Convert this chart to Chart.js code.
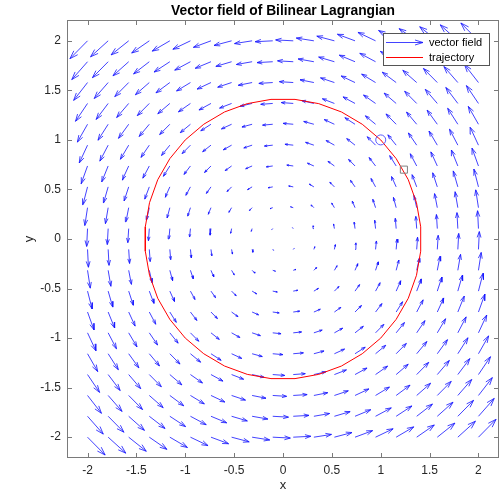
<!DOCTYPE html>
<html><head><meta charset="utf-8">
<script src="https://cdn.jsdelivr.net/npm/chart.js@4"></script>
<style>html,body{margin:0;padding:0;background:#fff;}#wrap{position:relative;width:504px;height:493px;}</style>
</head><body><div id="wrap"><canvas id="c" width="504" height="493"></canvas></div>
<script>
// ---- data ----
const gridX = [-2, -1.789, -1.579, -1.368, -1.158, -0.947, -0.737, -0.526, -0.316, -0.105, 0.105, 0.316, 0.526, 0.737, 0.947, 1.158, 1.368, 1.579, 1.789, 2];
const gridY = [-2, -1.789, -1.579, -1.368, -1.158, -0.947, -0.737, -0.526, -0.316, -0.105, 0.105, 0.316, 0.526, 0.737, 0.947, 1.158, 1.368, 1.579, 1.789, 2];
// drawn arrow components: horizontal part depends on the row, vertical part on the column
const arrowDxByRow = [0.18, 0.161, 0.142, 0.123, 0.104, 0.085, 0.066, 0.047, 0.028, 0.009, -0.009, -0.028, -0.047, -0.066, -0.085, -0.104, -0.123, -0.142, -0.161, -0.18];
const arrowDyByCol = [-0.18, -0.161, -0.142, -0.123, -0.104, -0.085, -0.066, -0.047, -0.028, -0.009, 0.009, 0.028, 0.047, 0.066, 0.085, 0.104, 0.123, 0.142, 0.161, 0.18];
const trajX = [1.00, 0.811, 0.598, 0.366, 0.123, -0.123, -0.366, -0.598, -0.811, -1.00, -1.158, -1.282, -1.366, -1.409, -1.409, -1.366, -1.282, -1.158, -1.00, -0.811, -0.598, -0.366, -0.123, 0.123, 0.366, 0.598, 0.811, 1.00, 1.158, 1.282, 1.366, 1.409, 1.409, 1.366, 1.282, 1.158, 1.00];
const trajY = [1.00, 1.158, 1.282, 1.366, 1.409, 1.409, 1.366, 1.282, 1.158, 1.00, 0.811, 0.598, 0.366, 0.123, -0.123, -0.366, -0.598, -0.811, -1.00, -1.158, -1.282, -1.366, -1.409, -1.409, -1.366, -1.282, -1.158, -1.00, -0.811, -0.598, -0.366, -0.123, 0.123, 0.366, 0.598, 0.811, 1.00];
const startX = [1.0], startY = [1.0];
const endX = [1.237], endY = [0.700];
const xTicks = [-2, -1.5, -1, -0.5, 0, 0.5, 1, 1.5, 2];
const yTicks = [-2, -1.5, -1, -0.5, 0, 0.5, 1, 1.5, 2];
const xRange = [-2.2, 2.2], yRange = [-2.2, 2.2];

// ---- styles ----
const FONT = '"Liberation Sans", Arial, Helvetica, sans-serif';
const BLUE = 'rgba(20,20,255,0.8)';
const AXIS = '#7a7a7a';
const HEAD_A = 0.33, HEAD_B = 0.33;

const arrowData = [];
gridY.forEach((y, i) => gridX.forEach((x, j) => {
  const u = arrowDxByRow[i], v = arrowDyByCol[j];
  const tx = x + u, ty = y + v;
  arrowData.push({x: x, y: y}, {x: tx, y: ty}, {x: tx, y: null},
    {x: tx - HEAD_A * (u + HEAD_B * v), y: ty - HEAD_A * (v - HEAD_B * u)}, {x: tx, y: ty},
    {x: tx - HEAD_A * (u - HEAD_B * v), y: ty - HEAD_A * (v + HEAD_B * u)}, {x: tx, y: null});
}));

const axesBox = {
  id: 'axesBox',
  afterDatasetsDraw(chart) {
    const {ctx, chartArea: a, scales} = chart;
    ctx.save();
    ctx.strokeStyle = AXIS; ctx.lineWidth = 1;
    ctx.strokeRect(Math.round(a.left) - 0.5, Math.round(a.top) - 0.5, Math.round(a.right - a.left) + 1, Math.round(a.bottom - a.top) + 1);
    ctx.beginPath();
    const tl = 4;
    xTicks.forEach(v => {
      const p = Math.round(scales.x.getPixelForValue(v)) + 0.5;
      ctx.moveTo(p, a.bottom); ctx.lineTo(p, a.bottom - tl);
      ctx.moveTo(p, a.top); ctx.lineTo(p, a.top + tl);
    });
    yTicks.forEach(v => {
      const p = Math.round(scales.y.getPixelForValue(v)) + 0.5;
      ctx.moveTo(a.left, p); ctx.lineTo(a.left + tl, p);
      ctx.moveTo(a.right, p); ctx.lineTo(a.right - tl, p);
    });
    ctx.stroke();
    ctx.restore();
  }
};

const legendBox = {
  id: 'legendBox',
  afterDraw(chart) {
    const {ctx, chartArea: a} = chart;
    const right = a.right - 9, top = a.top + 12, w = 106, h = 32;
    const left = right - w;
    ctx.save();
    ctx.fillStyle = '#fff';
    ctx.fillRect(left, top, w, h);
    ctx.strokeStyle = '#555'; ctx.lineWidth = 1;
    ctx.strokeRect(Math.round(left) + 0.5, Math.round(top) + 0.5, w, h);
    const x0 = left + 3, x1 = left + 40;
    const y1 = top + 9.5, y2 = top + 24.5;
    ctx.strokeStyle = BLUE;
    ctx.beginPath();
    ctx.moveTo(x0, y1); ctx.lineTo(x1, y1);
    ctx.moveTo(x1 - 8, y1 - 2.5); ctx.lineTo(x1, y1); ctx.lineTo(x1 - 8, y1 + 2.5);
    ctx.stroke();
    ctx.strokeStyle = '#ff0000';
    ctx.beginPath(); ctx.moveTo(x0, y2); ctx.lineTo(x1, y2); ctx.stroke();
    ctx.fillStyle = '#000';
    ctx.font = '11px ' + FONT;
    ctx.textBaseline = 'middle';
    ctx.fillText('vector field', left + 46, y1);
    ctx.fillText('trajectory', left + 46, y2);
    ctx.restore();
  }
};

new Chart(document.getElementById('c'), {
  type: 'line',
  data: {
    datasets: [
      {label: 'vector field', data: arrowData, borderColor: BLUE, borderWidth: 1, pointRadius: 0, spanGaps: false, tension: 0, order: 3},
      {label: 'trajectory', data: trajX.map((x, i) => ({x: x, y: trajY[i]})), borderColor: '#ff0000', borderWidth: 1, pointRadius: 0, tension: 0, order: 2},
      {label: 'start', data: startX.map((x, i) => ({x: x, y: startY[i]})), showLine: false, pointStyle: 'circle', pointRadius: 5, borderColor: '#5a5aff', backgroundColor: 'rgba(0,0,0,0)', borderWidth: 1, order: 1},
      {label: 'end', data: endX.map((x, i) => ({x: x, y: endY[i]})), showLine: false, pointStyle: 'rect', pointRadius: 5, borderColor: '#808080', backgroundColor: 'rgba(0,0,0,0)', borderWidth: 1, order: 1}
    ]
  },
  options: {
    responsive: false, animation: false, devicePixelRatio: 1,
    layout: {padding: {left: 0, right: 4, top: 0, bottom: 0}},
    plugins: {
      legend: {display: false}, tooltip: {enabled: false},
      title: {display: true, fullSize: false, text: 'Vector field of Bilinear Lagrangian', color: '#000',
        font: {family: FONT, size: 13.8, weight: 'bold', lineHeight: 1}, padding: {top: 4, bottom: 3.2}}
    },
    scales: {
      x: {type: 'linear', min: xRange[0], max: xRange[1],
        afterBuildTicks: s => { s.ticks = xTicks.map(v => ({value: v})); },
        afterFit: s => { s.height = 36; },
        grid: {display: false, drawTicks: false}, border: {display: false},
        ticks: {font: {family: FONT, size: 12}, color: '#262626', padding: 6, maxRotation: 0, autoSkip: false, callback: v => String(v)},
        title: {display: true, text: 'x', color: '#262626', font: {family: FONT, size: 13}, padding: {top: 0, bottom: 0}}},
      y: {type: 'linear', min: yRange[0], max: yRange[1],
        afterBuildTicks: s => { s.ticks = yTicks.map(v => ({value: v})); },
        afterFit: s => { s.width = 68; },
        grid: {display: false, drawTicks: false}, border: {display: false},
        ticks: {font: {family: FONT, size: 12}, color: '#262626', padding: 7, autoSkip: false, callback: v => String(v)},
        title: {display: true, text: 'y', color: '#262626', font: {family: FONT, size: 13}, padding: {top: 22, bottom: 0}}}
    }
  },
  plugins: [axesBox, legendBox]
});
</script>
</body></html>
